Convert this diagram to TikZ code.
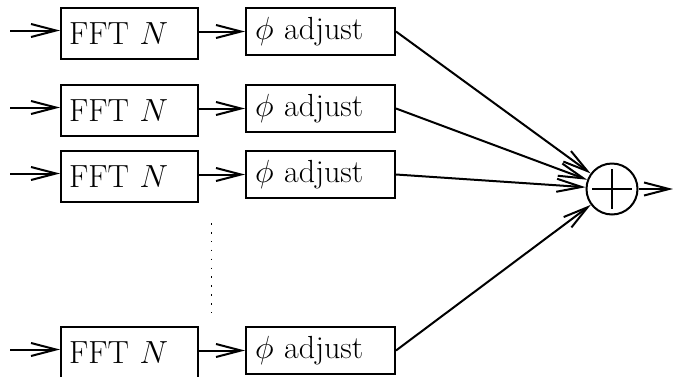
\RequirePackage{fix-cm}
\documentclass[tikz,border=0pt]{standalone}
\usetikzlibrary{arrows.meta,positioning}
\newcommand{\FftX}{60}
\newcommand{\PhiX}{245}
\tikzset{
    line/.style     = {-{Straight Barb[length=25pt,width=13pt]}, line width=2pt},
    block/.style    = {draw, line width=2pt, anchor=north west, align=left,
            font=\fontsize{32}{38}\selectfont, inner ysep=0pt},
    fftblock/.style = {block, text width=121pt, inner xsep=8pt, minimum height=51pt},
    phiblock/.style = {block, text width=131pt, inner xsep=9pt, minimum height=47pt},
    sumnode/.style  = {circle, draw, line width=2pt, minimum size=51pt, inner sep=0pt},
}
\begin{document}
\begin{tikzpicture}[x=1pt,y=-1pt]
    \useasboundingbox (0,0) rectangle (673,376);
    % summing junction
    \node[sumnode] (sum) at (612,189) {};
    \draw[line width=2pt] (sum.center) ++(-20,0) -- ++(40,0);
    \draw[line width=2pt] (sum.center) ++(0,-20) -- ++(0,40);
    % one row per channel
    \foreach \i/\y in {1/7,2/84,3/150,4/326}{
        \node[fftblock] (fft\i) at (\FftX,\y) {FFT $N$};
        \node[phiblock] (phi\i) at (\PhiX,\y) {$\phi$ adjust};
        \coordinate (in\i) at (10,\y+23.5);
        \draw[line] (in\i) -- (in\i -| fft\i.west);
        \draw[line] (phi\i.west -| fft\i.east) -- (phi\i.west);
        \draw[line] (phi\i.east) -- (sum);
    }
    \coordinate (out) at (673,189);
    \draw[line] (sum) -- (out);
    % dots between rows 3 and 4
    \draw[line width=1.6pt, dash pattern=on 1.6pt off 7.3pt] (211.5,223) -- (211.5,313);
\end{tikzpicture}
\end{document}
